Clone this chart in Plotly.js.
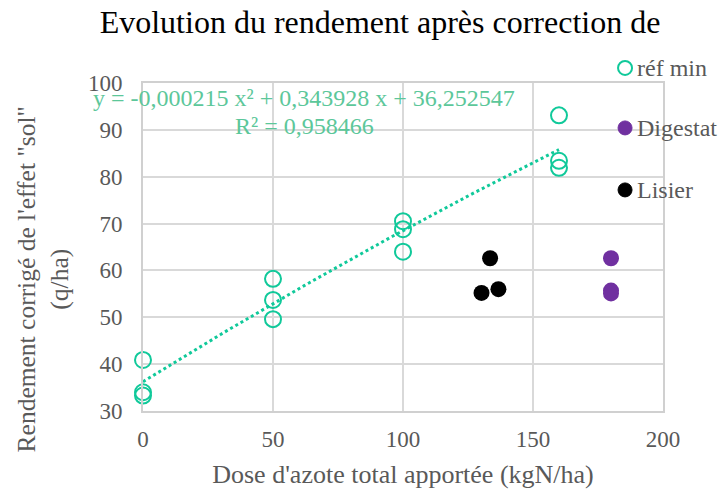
<!DOCTYPE html>
<html><head><meta charset="utf-8">
<script src="https://cdn.plot.ly/plotly-3.0.1.min.js"></script>
<style>body{margin:0;background:#fff}#chart{width:728px;height:489px}</style>
</head><body><div id="chart"></div>
<script>
// Data
const refMinX = [0, 0, 0, 50, 50, 50, 100, 100, 100, 160, 160, 160];
const refMinY = [40.9, 34.0, 33.3, 58.2, 53.7, 49.6, 70.5, 68.8, 64.0, 93.1, 83.4, 81.9];
const digestatX = [180, 180, 180];
const digestatY = [62.6, 55.7, 55.1];
const lisierX = [133.5, 130.2, 136.7];
const lisierY = [62.6, 55.2, 56.0];
const seriesNames = ['réf min', 'Digestat', 'Lisier'];
const xTicks = [0, 50, 100, 150, 200];
const yTicks = [30, 40, 50, 60, 70, 80, 90, 100];
// Polynomial trend coefficients (as printed on the chart)
const trendA = -0.000215, trendB = 0.343928, trendC = 36.252547;
const trendRange = [0, 160];
const eqText = "y = -0,000215 x² + 0,343928 x + 36,252547";
const r2Text = "R² = 0,958466";

const tx = [], ty = [];
for (let i = 0; i <= 80; i++) {
  const x = trendRange[0] + (trendRange[1] - trendRange[0]) * i / 80;
  tx.push(x); ty.push(trendA * x * x + trendB * x + trendC);
}
const green = '#10C99A';
const purple = '#7030A0';
const font = 'Liberation Serif, Times New Roman, serif';
const traces = [
  {x: tx, y: ty, mode: 'lines', line: {color: green, width: 3, dash: 'dot'}, showlegend: false, hoverinfo: 'skip'},
  {x: refMinX, y: refMinY, mode: 'markers', name: seriesNames[0], cliponaxis: false,
   marker: {symbol: 'circle-open', size: 16, color: green, line: {width: 2, color: green}}},
  {x: digestatX, y: digestatY, mode: 'markers', name: seriesNames[1], cliponaxis: false,
   marker: {symbol: 'circle', size: 16, color: purple}},
  {x: lisierX, y: lisierY, mode: 'markers', name: seriesNames[2], cliponaxis: false,
   marker: {symbol: 'circle', size: 16, color: '#000000'}}
];

// Custom legend (marker + label) placed like the reference
const legY = [1.046, 0.863, 0.674];
const legFill = ['#ffffff', purple, '#000000'];
const legLine = [green, purple, '#000000'];
const shapes = seriesNames.map((n, i) => ({
  type: 'circle', xref: 'paper', yref: 'paper', xsizemode: 'pixel', ysizemode: 'pixel',
  xanchor: 0.927, yanchor: legY[i], x0: -7, x1: 7, y0: -7, y1: 7,
  fillcolor: legFill[i], line: {color: legLine[i], width: i === 0 ? 2 : 1}
}));
const legendAnn = seriesNames.map((n, i) => ({
  xref: 'paper', yref: 'paper', x: 0.946, y: legY[i], text: n, showarrow: false,
  xanchor: 'left', yanchor: 'middle', font: {size: 24, color: '#595959'}
}));

const layout = {
  width: 728, height: 489,
  margin: {l: 143, r: 65, t: 83, b: 78},
  paper_bgcolor: '#fff', plot_bgcolor: '#fff',
  showlegend: false,
  font: {family: font, color: '#595959', size: 22},
  title: {text: 'Evolution du rendement après correction de', x: 0.522, xanchor: 'center',
          yref: 'container', y: 0.955, yanchor: 'middle',
          font: {family: font, size: 32, color: '#000'}},
  xaxis: {range: [0, 200], tickvals: xTicks, showgrid: true, gridcolor: '#d9d9d9', gridwidth: 2,
          zeroline: false, showline: true, mirror: true, linecolor: '#d0d0d0', linewidth: 2, ticks: '',
          ticklabelstandoff: 6,
          tickfont: {size: 23, color: '#595959'},
          title: {text: "Dose d'azote total apportée (kgN/ha)", standoff: 15, font: {size: 26, color: '#595959'}}},
  yaxis: {range: [30, 100], tickvals: yTicks, showgrid: true, gridcolor: '#d9d9d9', gridwidth: 2,
          zeroline: false, showline: true, mirror: true, linecolor: '#d0d0d0', linewidth: 2, ticks: '',
          ticklabelstandoff: 14,
          tickfont: {size: 23, color: '#595959'}},
  shapes: shapes,
  annotations: [
    {xref: 'paper', yref: 'paper', x: -0.193, y: 0.40, textangle: -90,
     text: 'Rendement corrigé de l\'effet "sol"<br>(q/ha)', showarrow: false, xanchor: 'center', yanchor: 'middle',
     font: {size: 25.5, color: '#595959'}},
    {xref: 'paper', yref: 'paper', x: 0.31, y: 0.954, text: eqText, showarrow: false, xanchor: 'center', yanchor: 'middle',
     font: {size: 24, color: '#5CC79A'}},
    {xref: 'paper', yref: 'paper', x: 0.31, y: 0.869, text: r2Text, showarrow: false, xanchor: 'center', yanchor: 'middle',
     font: {size: 24, color: '#5CC79A'}}
  ].concat(legendAnn)
};
Plotly.newPlot('chart', traces, layout, {displayModeBar: false, staticPlot: true});
</script></body></html>
